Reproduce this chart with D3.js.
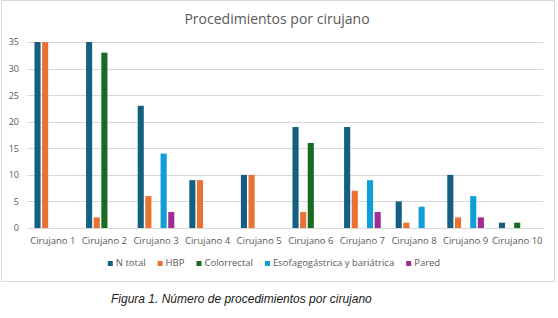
<!DOCTYPE html>
<html>
<head>
<meta charset="utf-8">
<script src="https://cdn.jsdelivr.net/npm/d3@7"></script>
<style>
  html, body { margin: 0; padding: 0; background: #fff; }
  svg { display: block; }
</style>
</head>
<body>
<svg id="chart" width="558" height="318"></svg>
<script>
const categories = ["Cirujano 1","Cirujano 2","Cirujano 3","Cirujano 4","Cirujano 5","Cirujano 6","Cirujano 7","Cirujano 8","Cirujano 9","Cirujano 10"];
const seriesNames = ["N total","HBP","Colorrectal","Esofagogástrica y bariátrica","Pared"];
const nTotal      = [35, 35, 23, 9, 10, 19, 19, 5, 10, 1];
const hbp         = [35,  2,  6, 9, 10,  3,  7, 1,  2, 0];
const colorrectal = [ 0, 33,  0, 0,  0, 16,  0, 0,  0, 1];
const esofago     = [ 0,  0, 14, 0,  0,  0,  9, 4,  6, 0];
const pared       = [ 0,  0,  3, 0,  0,  0,  3, 0,  2, 0];
const yTicks = [0, 5, 10, 15, 20, 25, 30, 35];
const colors = ["#156082", "#E97132", "#196B24", "#0F9ED5", "#A02B93"];
const title = "Procedimientos por cirujano";
const caption = "Figura 1. Número de procedimientos por cirujano";

const seriesValues = [nTotal, hbp, colorrectal, esofago, pared];

const svg = d3.select("#chart");
const font = "'Open Sans', sans-serif";
const textColor = "#595959";

// frame
svg.append("rect").attr("x", 1.5).attr("y", 0.5).attr("width", 553).attr("height", 281)
  .attr("fill", "#fff").attr("stroke", "#d9d9d9").attr("stroke-width", 1);

// title
svg.append("text").attr("x", 277).attr("y", 24).attr("text-anchor", "middle")
  .attr("font-family", font).attr("font-size", 14).attr("fill", textColor).text(title);

const x0 = d3.scaleBand().domain(categories).range([27, 543]).paddingInner(0.29).paddingOuter(0.145);
const x1 = d3.scaleBand().domain(seriesNames).range([0, x0.bandwidth()]).paddingInner(0.2);
const y = d3.scaleLinear().domain([0, 35]).range([228, 42]);

// gridlines
svg.append("g").selectAll("line").data(yTicks.filter(d => d > 0)).join("line")
  .attr("x1", 27).attr("x2", 543)
  .attr("y1", d => Math.round(y(d)) + 0.5).attr("y2", d => Math.round(y(d)) + 0.5)
  .attr("stroke", "#d9d9d9").attr("stroke-width", 1);

// y axis labels
const yAxis = d3.axisLeft(y).tickValues(yTicks).tickSize(0).tickPadding(0);
const yg = svg.append("g").attr("transform", "translate(19,0)").call(yAxis);
yg.select(".domain").remove();
yg.selectAll("text").attr("font-family", font).attr("font-size", 9).attr("fill", textColor);

// bars
const barData = [];
categories.forEach((c, i) => {
  seriesNames.forEach((s, j) => {
    barData.push({cat: c, series: s, value: seriesValues[j][i], color: colors[j]});
  });
});
svg.append("g").selectAll("rect").data(barData.filter(d => d.value > 0)).join("rect")
  .attr("x", d => x0(d.cat) + x1(d.series))
  .attr("width", x1.bandwidth())
  .attr("y", d => y(d.value))
  .attr("height", d => y(0) - y(d.value))
  .attr("fill", d => d.color);

// x axis
const xAxis = d3.axisBottom(x0).tickSize(0).tickPadding(9);
const xg = svg.append("g").attr("transform", `translate(0,${y(0)})`).call(xAxis);
xg.select(".domain").attr("stroke", "#d9d9d9");
xg.selectAll("text").attr("font-family", font).attr("font-size", 9.5).attr("fill", textColor);

// legend
const legend = svg.append("g");
const items = legend.selectAll("g").data(seriesNames).join("g");
items.append("rect").attr("width", 5).attr("height", 5).attr("y", -5)
  .attr("fill", (d, i) => colors[i]);
items.append("text").attr("x", 8).attr("y", 0)
  .attr("font-family", font).attr("font-size", 9.5).attr("fill", textColor).text(d => d);
let cx = 0;
items.each(function() {
  const w = d3.select(this).select("text").node().getComputedTextLength();
  d3.select(this).attr("transform", `translate(${cx},0)`);
  cx += 8 + w + 12;
});
const totalW = cx - 12;
legend.attr("transform", `translate(${274 - totalW / 2},266)`);

// caption
svg.append("text").attr("x", 111).attr("y", 303)
  .attr("font-family", "'Liberation Sans', Arial, sans-serif").attr("font-style", "italic")
  .attr("font-size", 12).attr("fill", "#1a1a1a").text(caption);
</script>
</body>
</html>
